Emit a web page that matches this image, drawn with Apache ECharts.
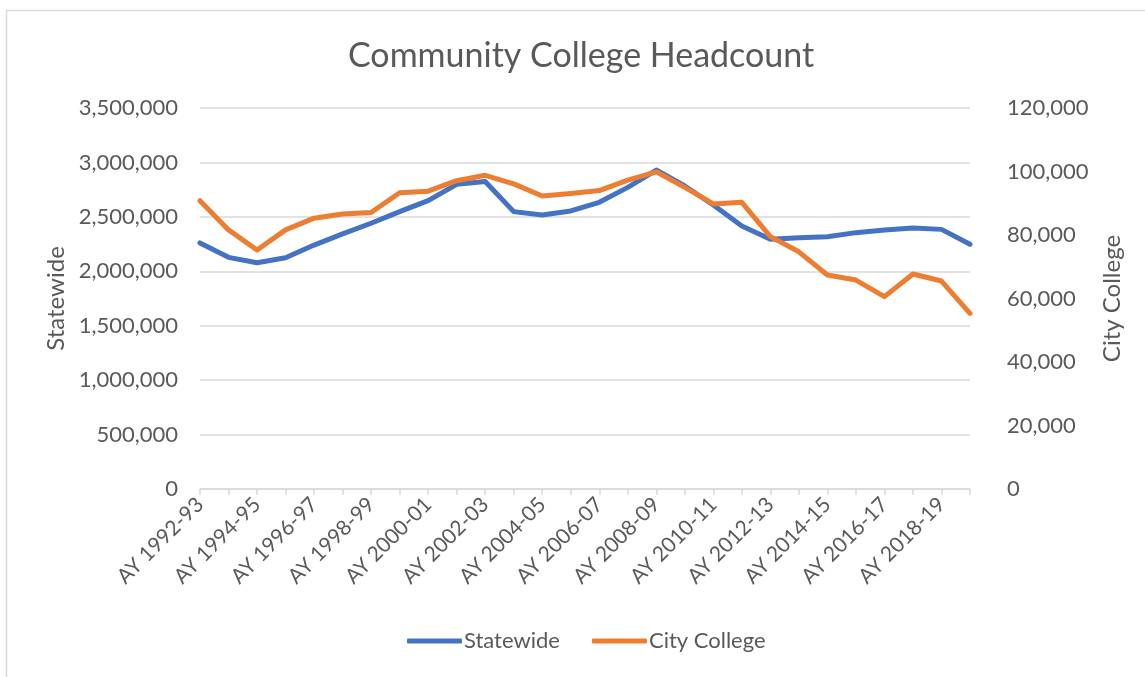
<!DOCTYPE html>
<html>
<head>
<meta charset="utf-8">
<script src="https://cdn.jsdelivr.net/npm/echarts@6/dist/echarts.min.js"></script>
<style>
  html, body { margin: 0; padding: 0; background: #fff; }
  #chart { width: 1145px; height: 677px; }
</style>
</head>
<body>
<div id="chart"></div>
<script>
// academic years on the x axis
var years = [
  "AY 1992-93", "AY 1993-94", "AY 1994-95", "AY 1995-96", "AY 1996-97", "AY 1997-98",
  "AY 1998-99", "AY 1999-00", "AY 2000-01", "AY 2001-02", "AY 2002-03", "AY 2003-04",
  "AY 2004-05", "AY 2005-06", "AY 2006-07", "AY 2007-08", "AY 2008-09", "AY 2009-10",
  "AY 2010-11", "AY 2011-12", "AY 2012-13", "AY 2013-14", "AY 2014-15", "AY 2015-16",
  "AY 2016-17", "AY 2017-18", "AY 2018-19", "AY 2019-20"
];

// headcount, statewide (left axis)
var statewide = [
  2260000, 2128000, 2079000, 2125000, 2241000, 2343000, 2441000, 2548000,
  2649000, 2799000, 2825000, 2548000, 2517000, 2554000, 2634000, 2771000,
  2930000, 2783000, 2609000, 2416000, 2295000, 2309000, 2318000, 2355000,
  2379000, 2398000, 2385000, 2248000
];

// headcount, city college (right axis)
var cityCollege = [
  90800, 81600, 75300, 81600, 85300, 86600, 87100, 93300,
  93800, 97100, 98800, 96100, 92300, 93100, 94000, 97300,
  99900, 95000, 89800, 90300, 79500, 74700, 67400, 65800,
  60600, 67700, 65500, 55300
];

var leftTicks = { min: 0, max: 3500000, step: 500000 };
var rightTicks = { min: 0, max: 120000, step: 20000 };

var fontName = "Lato, 'Open Sans', sans-serif";
var grey = "#595959";
var lineGrey = "#d9d9d9";

function fmt(v) {
  return v.toLocaleString("en-US");
}

var chart = echarts.init(document.getElementById("chart"));
chart.setOption({
  animation: false,
  textStyle: { fontFamily: fontName },
  title: {
    text: "Community College Headcount",
    left: 343,
    top: 34,
    textStyle: { fontFamily: fontName, fontSize: 34, fontWeight: "normal", color: grey }
  },
  graphic: [{
    type: "rect",
    shape: { x: 6.5, y: 10.5, width: 1300, height: 900 },
    style: { fill: "none", stroke: lineGrey, lineWidth: 1.5 }
  }],
  legend: {
    bottom: 20,
    left: 402,
    itemWidth: 55,
    itemHeight: 5,
    itemGap: 32,
    icon: "roundRect",
    textStyle: { fontFamily: fontName, fontSize: 22, color: grey, padding: [0, 0, 0, -3] },
    data: ["Statewide", "City College"]
  },
  grid: { left: 200, right: 175, top: 108, bottom: 188 },
  xAxis: {
    type: "category",
    data: years,
    boundaryGap: false,
    axisLine: { lineStyle: { color: lineGrey, width: 1.5 } },
    axisTick: { show: true, interval: 0, length: 6, lineStyle: { color: lineGrey, width: 1.5 } },
    axisLabel: {
      interval: 1,
      rotate: 45,
      margin: 12,
      fontSize: 21,
      color: grey,
      fontFamily: fontName
    }
  },
  yAxis: [
    {
      type: "value",
      name: "Statewide",
      nameLocation: "middle",
      nameGap: 130,
      nameTextStyle: { fontSize: 24, color: grey, fontFamily: fontName },
      min: leftTicks.min,
      max: leftTicks.max,
      interval: leftTicks.step,
      axisLine: { show: false },
      axisTick: { show: false },
      axisLabel: { fontSize: 22, color: grey, margin: 22, formatter: fmt },
      splitLine: { lineStyle: { color: lineGrey, width: 1.5 } }
    },
    {
      type: "value",
      name: "City College",
      nameLocation: "middle",
      nameGap: 130,
      nameTextStyle: { fontSize: 24, color: grey, fontFamily: fontName },
      min: rightTicks.min,
      max: rightTicks.max,
      interval: rightTicks.step,
      axisLine: { show: false },
      axisTick: { show: false },
      axisLabel: { fontSize: 22, color: grey, margin: 37, formatter: fmt },
      splitLine: { show: false }
    }
  ],
  series: [
    {
      name: "Statewide",
      type: "line",
      yAxisIndex: 0,
      data: statewide,
      symbol: "none",
      color: "#4472C4",
      lineStyle: { width: 5, color: "#4472C4", join: "round", cap: "round" }
    },
    {
      name: "City College",
      type: "line",
      yAxisIndex: 1,
      data: cityCollege,
      symbol: "none",
      color: "#ED7D31",
      lineStyle: { width: 5, color: "#ED7D31", join: "round", cap: "round" }
    }
  ]
});
</script>
</body>
</html>
